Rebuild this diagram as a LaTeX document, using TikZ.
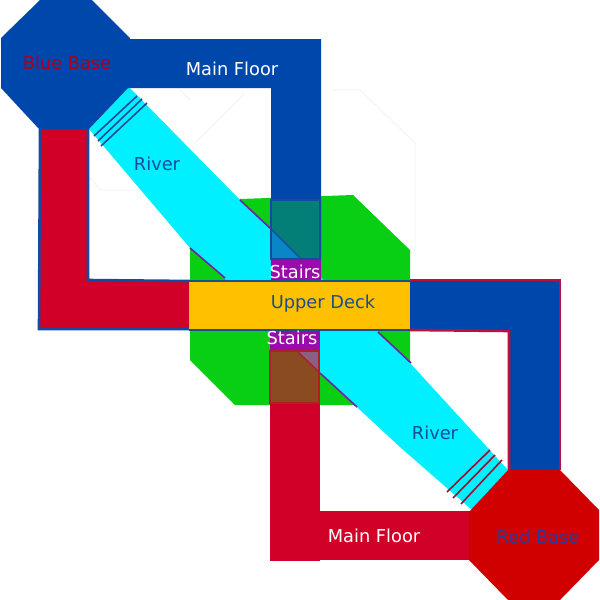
\documentclass[tikz,border=0pt]{standalone}
\usepackage{fontspec}
\setmainfont{DejaVu Sans}
\usepackage{xcolor}
\usepackage{tikz}
\definecolor{baseblue}{RGB}{0,71,171}
\definecolor{basered}{RGB}{208,0,0}
\definecolor{floorred}{RGB}{208,0,40}
\definecolor{edgeblue}{RGB}{20,75,160}
\definecolor{edgered}{RGB}{190,15,60}
\definecolor{deckedge}{RGB}{25,80,140}
\definecolor{rivercyan}{RGB}{0,240,255}
\definecolor{islegreen}{RGB}{9,207,20}
\definecolor{deckamber}{RGB}{255,192,0}
\definecolor{stairpurple}{RGB}{155,10,170}
\definecolor{bankpurple}{RGB}{110,35,165}
\definecolor{rampteal}{RGB}{3,127,120}
\definecolor{rampbrown}{RGB}{139,75,33}
\definecolor{rampblue}{RGB}{10,133,200}
\definecolor{rampmauve}{RGB}{138,96,128}
\definecolor{rampedge}{RGB}{176,30,40}
\definecolor{fainthull}{RGB}{236,244,244}
\tikzset{
  maplabel/.style={font=\fontsize{17.8}{20}\selectfont},
  outline/.style={line width=2.6pt},
  hatch/.style={line width=1.6pt},
}

\begin{document}
\begin{tikzpicture}[x=1pt,y=-1pt]
        \useasboundingbox (0,0) rectangle (600,600);
        \fill[white] (0,0) rectangle (600,600);
        % faint traces on the white ground
        \draw[fainthull,line width=0.8pt] (180,90) -- (190,100);
        \draw[fainthull,line width=0.8pt] (195,143) -- (245,93);
        \draw[fainthull,line width=0.8pt] (333,90) -- (360,90) -- (415,143) -- (415,257);
        \draw[fainthull,line width=0.8pt] (90,177) -- (100,190) -- (148,190);
        % green island and river
        \fill[islegreen] (240,199) -- (353,195) -- (410,250) -- (410,363) -- (357,405)
          -- (235,405) -- (190,360) -- (190,248) -- cycle;
        \fill[rivercyan] (89,129) -- (129,87) -- (240,200) -- (378,332) -- (410,363)
          -- (508,470) -- (472,510) -- (400,447) -- (320,373) -- (225,279) -- (190,248) -- cycle;
        % blue floors
        \fill[baseblue] (120,39) -- (321,39) -- (321,260) -- (271,260) -- (271,88) -- (120,88) -- cycle;
        \fill[baseblue] (410,280) rectangle (559,330);
        \fill[baseblue] (509,330) rectangle (559,471);
        \draw[edgered,outline] (410,280) -- (560,280) -- (560,470);
        \draw[edgered,outline] (410,330) -- (509,331) -- (509,470);
        % red floors
        \fill[floorred] (39,129) rectangle (88,330);
        \fill[floorred] (88,280) rectangle (190,330);
        \draw[edgeblue,outline] (40,129) -- (39,329) -- (190,329);
        \draw[edgeblue,outline] (88,129) -- (88,280) -- (190,281);
        \fill[floorred] (270,404) rectangle (320,561);
        \fill[floorred] (320,511) rectangle (480,560);
        % bases
        \fill[baseblue] (40,0) -- (92,0) -- (130,38) -- (129,87) -- (89,129) -- (39,129) -- (1,88) -- (1,38) -- cycle;
        \fill[basered] (508,470) -- (560,470) -- (599,510) -- (599,560) -- (560,600) -- (508,600) -- (469,560) -- (469,512) -- cycle;
        % ramps
        \fill[rampteal] (271,200) rectangle (320,259);
        \fill[rampblue] (271,229) -- (301,259) -- (271,259) -- cycle;
        \draw[edgeblue,outline] (271,200) -- (271,259) -- (320,259) -- (320,200) -- cycle;
        \fill[rampbrown] (270,350) rectangle (320,404);
        \fill[rampmauve] (298,351) -- (319,351) -- (319,373) -- cycle;
        \draw[rampedge,outline] (270,351) -- (319,351) -- (319,403) -- (270,403) -- cycle;
        % stairs and deck
        \fill[stairpurple] (271,260) rectangle (321,280);
        \fill[stairpurple] (270,329) rectangle (320,350);
        \fill[deckamber] (189,281) rectangle (410,330);
        \draw[deckedge,outline] (189,281) -- (410,281);
        \draw[deckedge,outline] (189,330) -- (410,330);
        % river banks
        \foreach \xa/\ya/\xb/\yb in {240/200/271/229, 190/248/225/278, 378/332/411/363, 320/373/357/407}{
          \draw[bankpurple,line width=1.6pt] (\xa,\ya) -- (\xb,\yb);
        }
        \draw[edgeblue,line width=1.4pt] (271,229) -- (300,258);
        \draw[rampedge,line width=1.4pt] (298,352) -- (319,372);
        % river hatching
        \foreach \xa/\ya/\xb/\yb in {94/136/137/96, 98/141/142/99, 101/146/147/103}{
          \draw[edgeblue,hatch] (\xa,\ya) -- (\xb,\yb);
        }
        \foreach \xa/\ya/\xb/\yb in {447/492/490/450, 453/498/495/455, 461/504/502/460}{
          \draw[edgered!85!black,hatch] (\xa,\ya) -- (\xb,\yb);
        }
        % labels
        \node[maplabel,text=floorred!80!black] (bluebase) at (67,63) {Blue Base};
        \node[maplabel,text=white] (mainfloorblue) at (232,69) {Main Floor};
        \node[maplabel,text=edgeblue] (rivertop) at (157,164) {River};
        \node[maplabel,text=white] (stairstop) at (295,272) {Stairs};
        \node[maplabel,text=deckedge] (upperdeck) at (323,304) {Upper Deck};
        \node[maplabel,text=white] (stairsbottom) at (292,338) {Stairs};
        \node[maplabel,text=edgeblue] (riverbottom) at (435,433) {River};
        \node[maplabel,text=white] (mainfloorred) at (374,536) {Main Floor};
        \node[maplabel,text=edgeblue!80!violet] (redbase) at (538,537) {Red Base};
      \end{tikzpicture}
\end{document}
